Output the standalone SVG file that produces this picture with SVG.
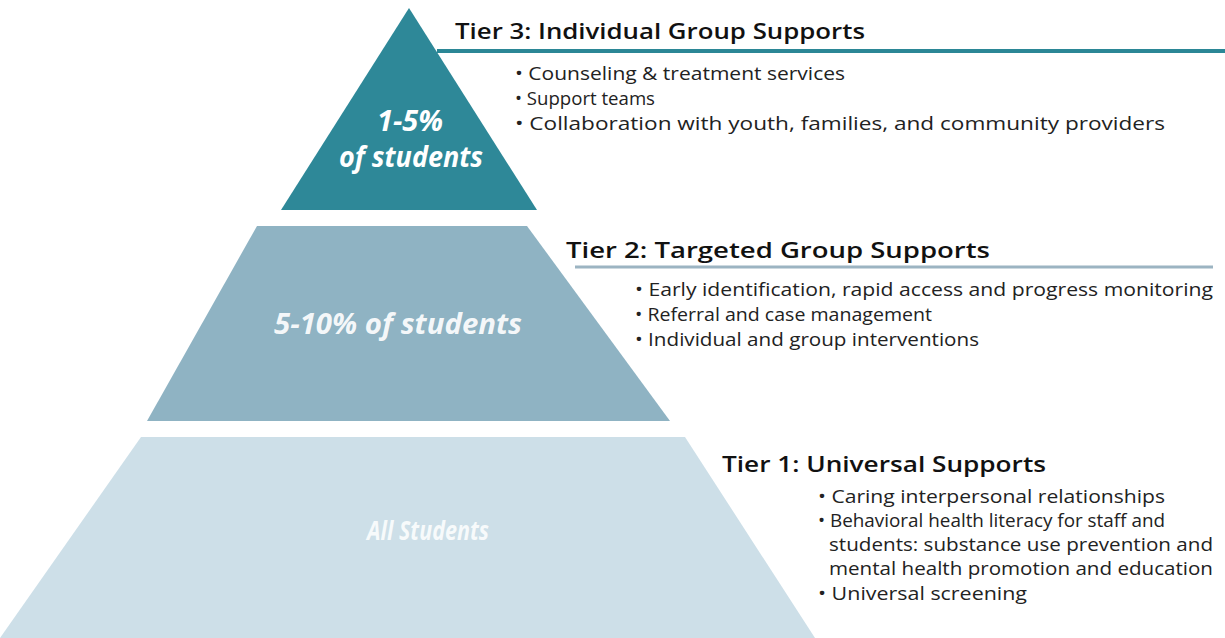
<svg xmlns="http://www.w3.org/2000/svg" width="1225" height="638" viewBox="0 0 1225 638">
<defs>
<style>
.title{font-family:"Open Sans","Noto Sans",sans-serif;font-weight:600;font-size:22px;fill:#111;}
.item{font-family:"Open Sans","Noto Sans",sans-serif;font-size:19px;fill:#222;}
.lbl{font-family:"Open Sans","Noto Sans",sans-serif;font-weight:bold;font-style:italic;fill:#fff;}
</style>
<linearGradient id="g1" x1="0" x2="1" y1="0" y2="0">
<stop offset="0" stop-color="#c9cfd2"/><stop offset="0.8" stop-color="#dde2e4"/><stop offset="1" stop-color="#f4f6f7"/>
</linearGradient>
</defs>
<rect width="1225" height="638" fill="#fff"/>
<g id="connectors">
<line x1="437" y1="51" x2="1225" y2="51" stroke="#2b8796" stroke-width="4"/>
<line x1="575" y1="267" x2="1213" y2="267" stroke="#9cb4c2" stroke-width="3"/>
<line x1="700" y1="480" x2="1200" y2="480" stroke="url(#g1)" stroke-width="3"/>
</g>
<g id="tier3">
<polygon points="409,8 537,210 281,210" fill="#2e8898"/>
<text class="lbl" x="410" y="131" font-size="28" text-anchor="middle" textLength="66" lengthAdjust="spacingAndGlyphs">1-5%</text>
<text class="lbl" x="411" y="167" font-size="28" text-anchor="middle" textLength="144" lengthAdjust="spacingAndGlyphs">of students</text>
<text class="title" x="455" y="39" textLength="410" lengthAdjust="spacingAndGlyphs">Tier 3: Individual Group Supports</text>
<text class="item" x="515" y="80" textLength="330" lengthAdjust="spacingAndGlyphs">• Counseling &amp; treatment services</text>
<text class="item" x="515" y="105" textLength="140" lengthAdjust="spacingAndGlyphs">• Support teams</text>
<text class="item" x="515" y="130" textLength="650" lengthAdjust="spacingAndGlyphs">• Collaboration with youth, families, and community providers</text>
</g>
<g id="tier2">
<polygon points="257,226 527,226 670,421 147,421" fill="#8fb3c3"/>
<text class="lbl" x="398" y="334" font-size="28" fill-opacity="0.92" text-anchor="middle" textLength="248" lengthAdjust="spacingAndGlyphs">5-10% of students</text>
<text class="title" x="566" y="258" textLength="424" lengthAdjust="spacingAndGlyphs">Tier 2: Targeted Group Supports</text>
<text class="item" x="635" y="296" textLength="578" lengthAdjust="spacingAndGlyphs">• Early identification, rapid access and progress monitoring</text>
<text class="item" x="635" y="321" textLength="297" lengthAdjust="spacingAndGlyphs">• Referral and case management</text>
<text class="item" x="635" y="346" textLength="344" lengthAdjust="spacingAndGlyphs">• Individual and group interventions</text>
</g>
<g id="tier1">
<polygon points="141,437 685,437 815,638 0,638" fill="#cddfe8"/>
<text class="lbl" x="428" y="540" font-size="27" fill-opacity="0.85" text-anchor="middle" textLength="122" lengthAdjust="spacingAndGlyphs">All Students</text>
<text class="title" x="722" y="472" textLength="324" lengthAdjust="spacingAndGlyphs">Tier 1: Universal Supports</text>
<text class="item" x="818" y="503" textLength="347" lengthAdjust="spacingAndGlyphs">• Caring interpersonal relationships</text>
<text class="item" x="818" y="527" textLength="347" lengthAdjust="spacingAndGlyphs">• Behavioral health literacy for staff and</text>
<text class="item" x="829" y="551" textLength="384" lengthAdjust="spacingAndGlyphs">students: substance use prevention and</text>
<text class="item" x="829" y="575" textLength="384" lengthAdjust="spacingAndGlyphs">mental health promotion and education</text>
<text class="item" x="818" y="600" textLength="209" lengthAdjust="spacingAndGlyphs">• Universal screening</text>
</g>
</svg>
